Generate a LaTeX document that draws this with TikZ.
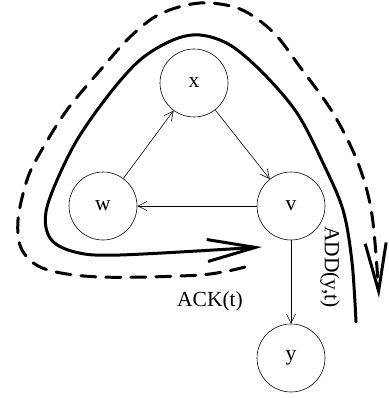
\documentclass[tikz,border=0pt]{standalone}
\usepackage{fontspec}
\setmainfont{Liberation Serif}
\usetikzlibrary{arrows.meta}

\begin{document}
\begin{tikzpicture}[x=1pt, y=-1pt,
   every node/.style={font=\fontsize{21.5}{25}\selectfont},
   proc/.style={draw, circle, minimum size=68pt, inner sep=0pt, line width=0.6pt},
   msg/.style={-{Straight Barb[length=9pt, width=9pt]}, line width=0.6pt},
   wave/.style={line width=3pt, line cap=round}]
   \useasboundingbox (0,0) rectangle (388,398);

\node[proc] (X) at (194,83) {x};
\node[proc] (W) at (103,206) {w};
\node[proc] (V) at (291,206) {v};
\node[proc] (Y) at (291,358) {y};

\draw[msg] (W) -- (X);
\draw[msg] (X) -- (V);
\draw[msg] (V) -- (W);
\draw[msg] (V) -- (Y);

\coordinate (addS) at (356,322);
\coordinate (ackE) at (262,247);
\coordinate (ackS) at (245,267);
\coordinate (addE) at (379,298);

\draw[wave, -{Straight Barb[length=48pt, width=22pt]}] plot[smooth, tension=0.55] coordinates {
   (addS) (352,262) (343,210) (323,163) (297,113) (263,73) (230,45) (200,35)
   (173,40) (140,60) (107,97) (73,147) (47,207) (50,238) (75,252) (120,255) (ackE)};

\draw[wave, dash pattern=on 15pt off 10pt, -{Straight Barb[length=48pt, width=21pt]}] plot[smooth, tension=0.55] coordinates {
   (ackS) (200,275) (100,277) (45,269) (22,250) (18,220) (27,180) (40,153)
   (67,110) (103,67) (130,37) (160,14) (200,3) (240,9) (273,32) (300,67)
   (333,113) (358,163) (372,215) (addE)};

\node (ack) at (210,301) {ACK(t)};
\node[rotate=-90] (add) at (330,267) {ADD(y,t)};
\end{tikzpicture}
\end{document}
